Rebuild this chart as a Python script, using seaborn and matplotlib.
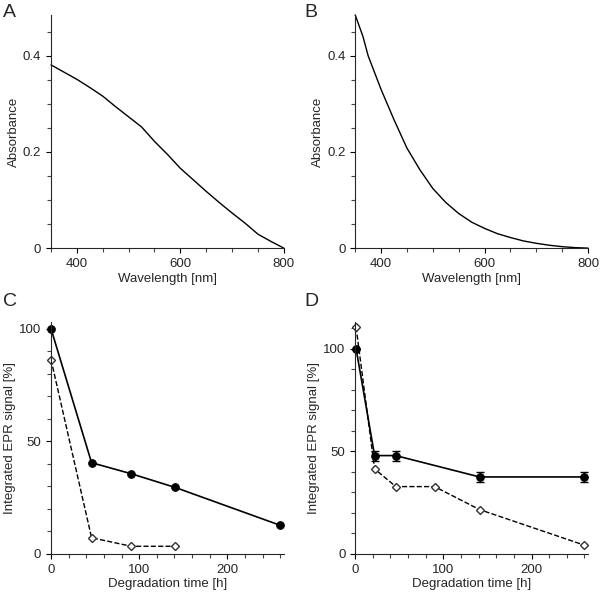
import pandas as pd
import matplotlib
matplotlib.use("Agg")
import matplotlib.pyplot as plt
from matplotlib.ticker import MultipleLocator
import seaborn as sns

# spectra (A, B)
wl_a = [350, 375, 400, 425, 450, 475, 500, 525, 550, 575, 600, 625, 650, 675, 700, 725, 750, 775, 800]
abs_a = [0.381, 0.366, 0.351, 0.334, 0.316, 0.294, 0.273, 0.252, 0.222, 0.195, 0.166, 0.142,
         0.118, 0.095, 0.073, 0.052, 0.029, 0.014, 0.0]
wl_b = [350, 365, 375, 400, 425, 450, 475, 500, 525, 550, 575, 600, 625, 650, 675, 700, 725, 750, 775, 800]
abs_b = [0.485, 0.440, 0.400, 0.330, 0.267, 0.208, 0.163, 0.124, 0.095, 0.072, 0.054, 0.041,
         0.030, 0.022, 0.015, 0.010, 0.006, 0.003, 0.001, 0.0]

# EPR degradation (C)
t_c1 = [0, 46, 91, 141, 260]
epr_c1 = [100, 40.5, 35.6, 29.5, 12.7]
t_c2 = [0, 46, 91, 141]
epr_c2 = [86.3, 7.2, 3.4, 3.4]

# EPR degradation (D)
t_d1 = [1, 22, 46, 141, 259]
epr_d1 = [100, 47.9, 47.9, 37.5, 37.5]
err_d1 = [0, 2.4, 2.4, 2.4, 2.4]
t_d2 = [1, 22, 46, 90, 141, 259]
epr_d2 = [110.4, 41.4, 32.8, 32.8, 21.6, 4.4]
filled_d2 = [False, False, True, True, False, False]

sns.set_style("ticks")
plt.rcParams['font.family'] = ['Liberation Sans', 'DejaVu Sans']
plt.rcParams['axes.linewidth'] = 0.8
plt.rcParams['xtick.minor.visible'] = True
plt.rcParams['ytick.minor.visible'] = True

fig = plt.figure(figsize=(6, 5.95), dpi=100)
axA = fig.add_axes([0.085, 0.583, 0.388, 0.392])
axB = fig.add_axes([0.592, 0.583, 0.388, 0.392])
axC = fig.add_axes([0.085, 0.069, 0.388, 0.390])
axD = fig.add_axes([0.592, 0.069, 0.388, 0.390])

for ax, wl, ab in [(axA, wl_a, abs_a), (axB, wl_b, abs_b)]:
    sns.lineplot(x=wl, y=ab, ax=ax, color='black', lw=1.0)
    ax.set_xlim(350, 800)
    ax.set_ylim(0, 0.485)
    ax.set_xticks([400, 600, 800])
    ax.set_yticks([0, 0.2, 0.4])
    ax.set_yticklabels(['0', '0.2', '0.4'])
    ax.xaxis.set_minor_locator(MultipleLocator(50))
    ax.yaxis.set_minor_locator(MultipleLocator(0.05))
    ax.set_xlabel('Wavelength [nm]', fontsize=9.5, labelpad=2)
    ax.set_ylabel('Absorbance', fontsize=9.5, labelpad=2)

# C
sns.lineplot(x=t_c1, y=epr_c1, ax=axC, color='black', lw=1.2, marker='o', markersize=5.5,
             markerfacecolor='black', markeredgecolor='black')
sns.lineplot(x=t_c2, y=epr_c2, ax=axC, color='black', lw=1.0, linestyle='--', marker='D',
             markersize=4, markerfacecolor='white', markeredgecolor='#333333', markeredgewidth=1.0)
axC.set_ylim(0, 103)

# D
sns.lineplot(x=t_d1, y=epr_d1, ax=axD, color='black', lw=1.2, marker='o', markersize=5.5,
             markerfacecolor='black', markeredgecolor='black')
axD.errorbar(t_d1, epr_d1, yerr=err_d1, fmt='none', ecolor='black', elinewidth=1.0, capsize=3)
sns.lineplot(x=t_d2, y=epr_d2, ax=axD, color='black', lw=1.0, linestyle='--', marker='D',
             markersize=4, markerfacecolor='white', markeredgecolor='#333333', markeredgewidth=1.0)
df_fill = pd.DataFrame({'t': t_d2, 'v': epr_d2, 'f': filled_d2})
df_fill = df_fill[df_fill['f']]
sns.scatterplot(data=df_fill, x='t', y='v', ax=axD, marker='D', s=16, color='black', edgecolor='black')
axD.set_ylim(0, 113)

for ax in (axC, axD):
    ax.set_xlim(0, 264)
    ax.set_xticks([0, 100, 200])
    ax.set_yticks([0, 50, 100])
    ax.xaxis.set_minor_locator(MultipleLocator(20))
    ax.yaxis.set_minor_locator(MultipleLocator(10))
    ax.set_xlabel('Degradation time [h]', fontsize=9.5, labelpad=2)
    ax.set_ylabel('Integrated EPR signal [%]', fontsize=9.5, labelpad=2)

for ax in (axA, axB, axC, axD):
    sns.despine(ax=ax)
    ax.minorticks_on()
    ax.tick_params(which='major', labelsize=9.5, width=0.8, length=3.5, color='black')
    ax.tick_params(which='minor', width=0.8, length=3, color='#444444')
    for line in ax.lines:
        line.set_clip_on(False)

# panel letters
fig.text(0.005, 0.972, 'A', fontsize=14)
fig.text(0.508, 0.972, 'B', fontsize=14)
fig.text(0.005, 0.485, 'C', fontsize=14)
fig.text(0.508, 0.485, 'D', fontsize=14)

fig.savefig('out.png', dpi=100)
